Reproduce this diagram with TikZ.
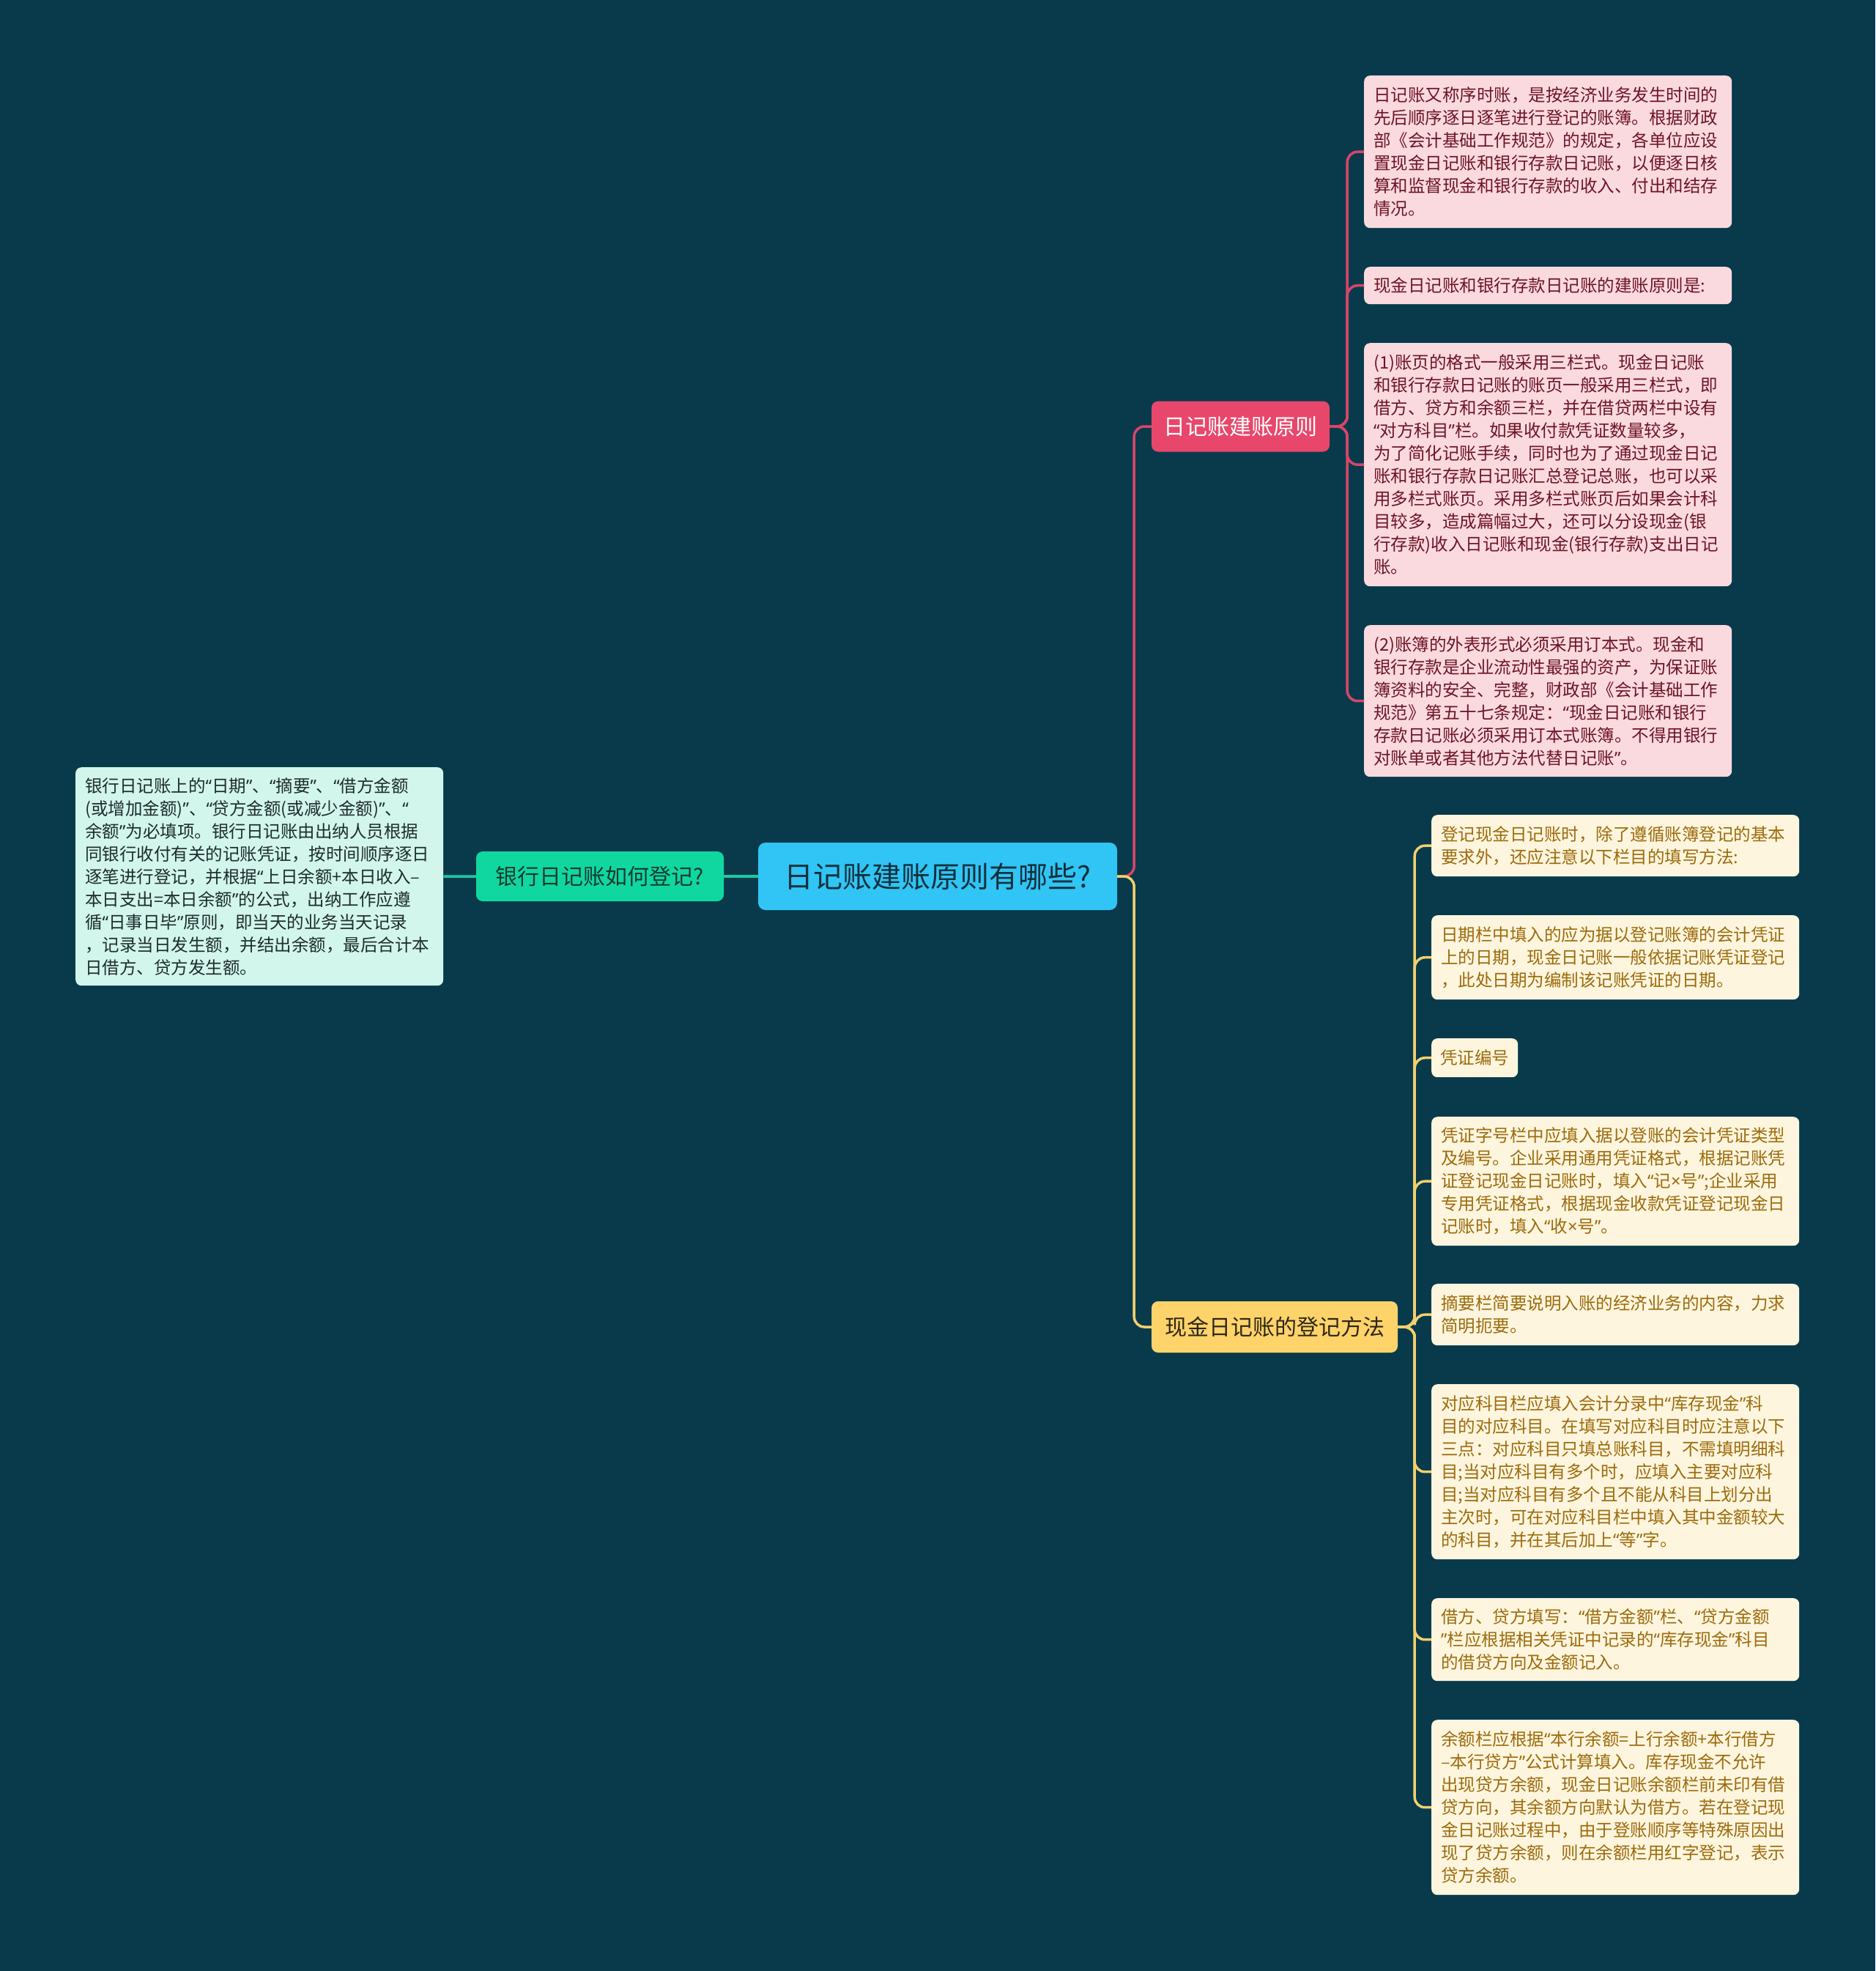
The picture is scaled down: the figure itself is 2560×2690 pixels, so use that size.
\documentclass[tikz,border=0pt]{standalone}
\usepackage{fontspec}
\setmainfont{Noto Sans CJK SC}
\newfontfamily\latinq{Noto Sans}
\newcommand\qo{{\latinq “}}
\newcommand\qc{{\latinq ”}}
\newcommand\tms{{\latinq ×}}
\definecolor{bgc}{HTML}{083A4C}
\definecolor{centerfill}{HTML}{30C5F4}
\definecolor{centertext}{HTML}{12303E}
\definecolor{pinkfill}{HTML}{E8476B}
\definecolor{pinkline}{HTML}{D9456A}
\definecolor{pinkleaf}{HTML}{FADADF}
\definecolor{pinktext}{HTML}{6E1426}
\definecolor{yelfill}{HTML}{FDD36A}
\definecolor{yelline}{HTML}{F3D06C}
\definecolor{yelleaf}{HTML}{FDF5DE}
\definecolor{yeltext}{HTML}{9C6B0C}
\definecolor{yelbtext}{HTML}{2E2616}
\definecolor{grnfill}{HTML}{10D7A0}
\definecolor{grnline}{HTML}{1EC9A0}
\definecolor{grnleaf}{HTML}{D2F6EC}
\definecolor{grntext}{HTML}{1E2C2C}
\definecolor{grnbtext}{HTML}{123A30}
\tikzset{
  leafbox/.style={draw=none, rounded corners=8pt, inner xsep=13pt, inner ysep=0pt,
    text width=476pt, align=left, anchor=north west,
    font=\fontsize{23.5}{31}\selectfont},
  pinkbox/.style={leafbox, fill=pinkleaf, text=pinktext},
  yelbox/.style={leafbox, fill=yelleaf, text=yeltext},
  grnbox/.style={leafbox, fill=grnleaf, text=grntext},
  branchbox/.style={rounded corners=9pt, inner sep=0pt, font=\fontsize{30}{36}\selectfont},
  conn/.style={line width=3.5pt, rounded corners=14pt},
}
\begin{document}
\begin{tikzpicture}[x=1pt,y=-1pt]
\fill[bgc] (0,0) rectangle (2560,2690);
\useasboundingbox (0,0) rectangle (2560,2690);

% central
\node[rounded corners=10pt, fill=centerfill, text=centertext, minimum width=490pt, minimum height=92pt,
  inner sep=0pt, font=\fontsize{40}{48}\selectfont] (c) at (1280,1196) {日记账建账原则有哪些?};

% branches
\node[branchbox, fill=grnfill, text=grnbtext, minimum width=338pt, minimum height=68pt] (gb) at (819,1196) {银行日记账如何登记?};
\node[branchbox, fill=pinkfill, text=white, minimum width=243pt, minimum height=69pt] (pb) at (1693.5,582) {日记账建账原则};
\node[branchbox, fill=yelfill, text=yelbtext, minimum width=336pt, minimum height=70pt] (yb) at (1740,1811) {现金日记账的登记方法};

% green leaf
\node[grnbox, minimum height=298pt] (g1) at (103,1047) {银行日记账上的\qo{}日期\qc{}、\qo{}摘要\qc{}、\qo{}借方金额\\(或增加金额)\qc{}、\qo{}贷方金额(或减少金额)\qc{}、\qo{}\\余额\qc{}为必填项。银行日记账由出纳人员根据\\同银行收付有关的记账凭证，按时间顺序逐日\\逐笔进行登记，并根据\qo{}上日余额+本日收入–\\本日支出=本日余额\qc{}的公式，出纳工作应遵\\循\qo{}日事日毕\qc{}原则，即当天的业务当天记录\\，记录当日发生额，并结出余额，最后合计本\\日借方、贷方发生额。};

% pink leaves
\node[pinkbox, minimum height=208pt] (p1) at (1862,103) {日记账又称序时账，是按经济业务发生时间的\\先后顺序逐日逐笔进行登记的账簿。根据财政\\部《会计基础工作规范》的规定，各单位应设\\置现金日记账和银行存款日记账，以便逐日核\\算和监督现金和银行存款的收入、付出和结存\\情况。};
\node[pinkbox, minimum height=51pt] (p2) at (1862,364) {现金日记账和银行存款日记账的建账原则是:};
\node[pinkbox, minimum height=332pt] (p3) at (1862,468) {(1)账页的格式一般采用三栏式。现金日记账\\和银行存款日记账的账页一般采用三栏式，即\\借方、贷方和余额三栏，并在借贷两栏中设有\\\qo{}对方科目\qc{}栏。如果收付款凭证数量较多，\\为了简化记账手续，同时也为了通过现金日记\\账和银行存款日记账汇总登记总账，也可以采\\用多栏式账页。采用多栏式账页后如果会计科\\目较多，造成篇幅过大，还可以分设现金(银\\行存款)收入日记账和现金(银行存款)支出日记\\账。};
\node[pinkbox, minimum height=207pt] (p4) at (1862,853) {(2)账簿的外表形式必须采用订本式。现金和\\银行存款是企业流动性最强的资产，为保证账\\簿资料的安全、完整，财政部《会计基础工作\\规范》第五十七条规定：\qo{}现金日记账和银行\\存款日记账必须采用订本式账簿。不得用银行\\对账单或者其他方法代替日记账\qc{}。};

% yellow leaves
\node[yelbox, minimum height=84pt] (y1) at (1954,1112) {登记现金日记账时，除了遵循账簿登记的基本\\要求外，还应注意以下栏目的填写方法:};
\node[yelbox, minimum height=115pt] (y2) at (1954,1249) {日期栏中填入的应为据以登记账簿的会计凭证\\上的日期，现金日记账一般依据记账凭证登记\\，此处日期为编制该记账凭证的日期。};
\node[draw=none, rounded corners=8pt, inner xsep=12pt, inner ysep=0pt, anchor=north west,
  fill=yelleaf, text=yeltext, minimum height=53pt, font=\fontsize{23.5}{31}\selectfont] (y3) at (1954,1417) {凭证编号};
\node[yelbox, minimum height=176pt] (y4) at (1954,1524) {凭证字号栏中应填入据以登账的会计凭证类型\\及编号。企业采用通用凭证格式，根据记账凭\\证登记现金日记账时，填入\qo{}记\tms{}号\qc{};企业采用\\专用凭证格式，根据现金收款凭证登记现金日\\记账时，填入\qo{}收\tms{}号\qc{}。};
\node[yelbox, minimum height=84pt] (y5) at (1954,1752) {摘要栏简要说明入账的经济业务的内容，力求\\简明扼要。};
\node[yelbox, minimum height=239pt] (y6) at (1954,1889) {对应科目栏应填入会计分录中\qo{}库存现金\qc{}科\\目的对应科目。在填写对应科目时应注意以下\\三点：对应科目只填总账科目，不需填明细科\\目;当对应科目有多个时，应填入主要对应科\\目;当对应科目有多个且不能从科目上划分出\\主次时，可在对应科目栏中填入其中金额较大\\的科目，并在其后加上\qo{}等\qc{}字。};
\node[yelbox, minimum height=113pt] (y7) at (1954,2181) {借方、贷方填写：\qo{}借方金额\qc{}栏、\qo{}贷方金额\\\qc{}栏应根据相关凭证中记录的\qo{}库存现金\qc{}科目\\的借贷方向及金额记入。};
\node[yelbox, minimum height=239pt] (y8) at (1954,2347) {余额栏应根据\qo{}本行余额=上行余额+本行借方\\–本行贷方\qc{}公式计算填入。库存现金不允许\\出现贷方余额，现金日记账余额栏前未印有借\\贷方向，其余额方向默认为借方。若在登记现\\金日记账过程中，由于登账顺序等特殊原因出\\现了贷方余额，则在余额栏用红字登记，表示\\贷方余额。};

% connectors: central
\draw[conn, grnline] (c.west) -- (gb.east);
\draw[conn, grnline] (gb.west) -- (g1.east);
\draw[conn, pinkline] (c.east) -- ++(23,0) |- (pb.west);
\draw[conn, yelline] (c.east) -- ++(23,0) |- (yb.west);

% pink leaves
\foreach \n in {p1,p2,p3,p4}
  \draw[conn, pinkline] (pb.east) -- ++(24,0) |- (\n.west);
% yellow leaves
\foreach \n in {y1,y2,y3,y4,y5,y6,y7,y8}
  \draw[conn, yelline] (yb.east) -- ++(23,0) |- (\n.west);
\end{tikzpicture}
\end{document}
